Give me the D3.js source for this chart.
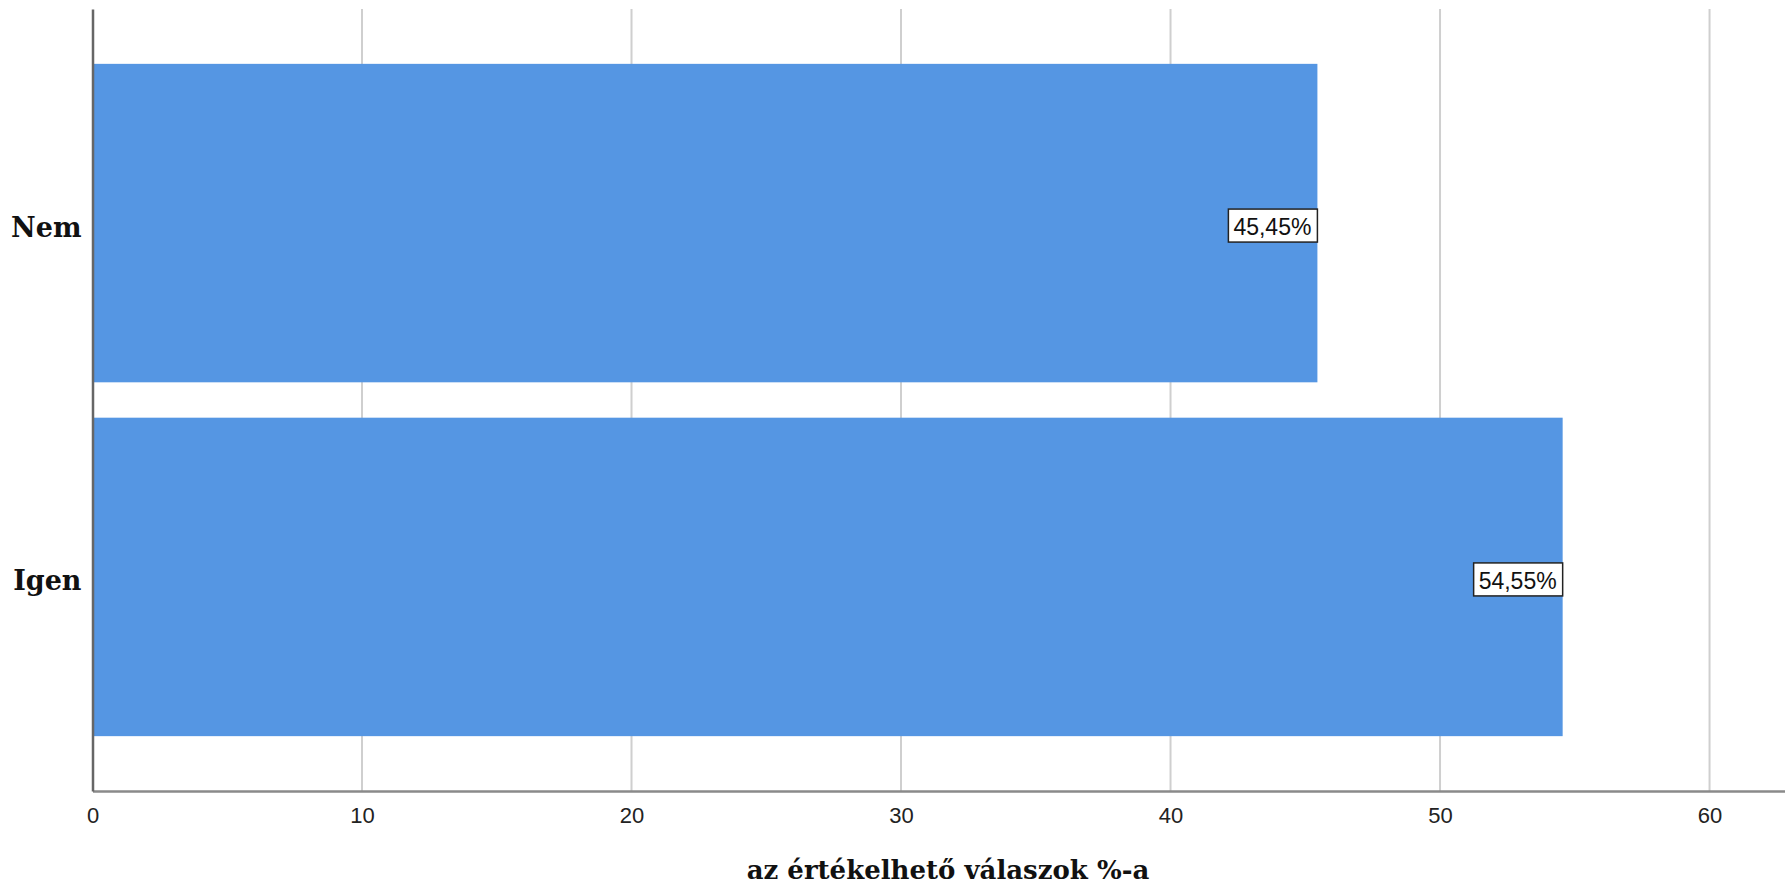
<!DOCTYPE html>
<html>
<head>
<meta charset="utf-8">
<script src="https://cdn.jsdelivr.net/npm/d3@7"></script>
<style>
  html, body { margin: 0; padding: 0; background: #fff; }
  svg { display: block; }
</style>
</head>
<body>
<svg id="chart" width="1785" height="885"></svg>
<script>
const categories = ["Nem", "Igen"];
const values = [45.45, 54.55];
const valueLabels = ["45,45%", "54,55%"];
const xTicks = [0, 10, 20, 30, 40, 50, 60];
const xTitle = "az értékelhető válaszok %-a";

(function () {
const mLeft = 92.5, mRight = 1785, mTop = 9, mBottom = 791;

const svg = d3.select("#chart");

const x = d3.scaleLinear().domain([0, 62.8]).range([mLeft, mRight]);
const y = d3.scaleBand().domain(categories).range([mTop, mBottom]).paddingInner(0.1).paddingOuter(0.155);

// gridlines
svg.append("g").selectAll("line").data(xTicks.filter(d => d > 0)).join("line")
  .attr("x1", d => x(d)).attr("x2", d => x(d))
  .attr("y1", mTop).attr("y2", mBottom)
  .attr("stroke", "#cfcfcf").attr("stroke-width", 2);

// bars
svg.append("g").selectAll("rect").data(categories).join("rect")
  .attr("x", x(0))
  .attr("y", d => y(d))
  .attr("width", (d, i) => x(values[i]) - x(0))
  .attr("height", y.bandwidth())
  .attr("fill", "#5596e3");

// axes
const xAxis = d3.axisBottom(x).tickValues(xTicks).tickSize(0).tickPadding(16).tickFormat(d3.format("d"));
const gx = svg.append("g").attr("transform", `translate(0,${mBottom})`).call(xAxis);
gx.select(".domain").attr("stroke", "#8a8a8a").attr("stroke-width", 2.5);
gx.selectAll("text").attr("font-family", "Liberation Sans, Arial, sans-serif").attr("font-size", 22).attr("fill", "#222");

const yAxis = d3.axisLeft(y).tickSize(0).tickPadding(11);
const gy = svg.append("g").attr("transform", `translate(${mLeft},0)`).call(yAxis);
gy.select(".domain").attr("stroke", "#666").attr("stroke-width", 2.5);
gy.selectAll("text").attr("font-family", "DejaVu Serif, serif").attr("font-weight", "bold")
  .attr("font-size", 27).attr("fill", "#111").attr("dy", "0.5em");

// value labels
const lab = svg.append("g").selectAll("g").data(categories).join("g");
lab.each(function(d, i) {
  const g = d3.select(this);
  const t = g.append("text")
    .attr("font-family", "Liberation Sans, Arial, sans-serif")
    .attr("font-size", 23)
    .attr("fill", "#111")
    .attr("text-anchor", "end")
    .attr("dominant-baseline", "central")
    .attr("x", x(values[i]) - 6)
    .attr("y", y(d) + y.bandwidth() / 2 + 4)
    .text(valueLabels[i]);
  const bb = t.node().getBBox();
  g.insert("rect", "text")
    .attr("x", bb.x - 5).attr("y", y(d) + y.bandwidth() / 2 - 14)
    .attr("width", x(values[i]) - (bb.x - 5)).attr("height", 33)
    .attr("fill", "#fff").attr("stroke", "#222").attr("stroke-width", 1.5);
});

// x title
svg.append("text")
  .attr("x", 948).attr("y", 879)
  .attr("text-anchor", "middle")
  .attr("font-family", "DejaVu Serif, serif")
  .attr("font-weight", "bold")
  .attr("font-size", 26)
  .attr("fill", "#111")
  .text(xTitle);
})();
</script>
</body>
</html>
